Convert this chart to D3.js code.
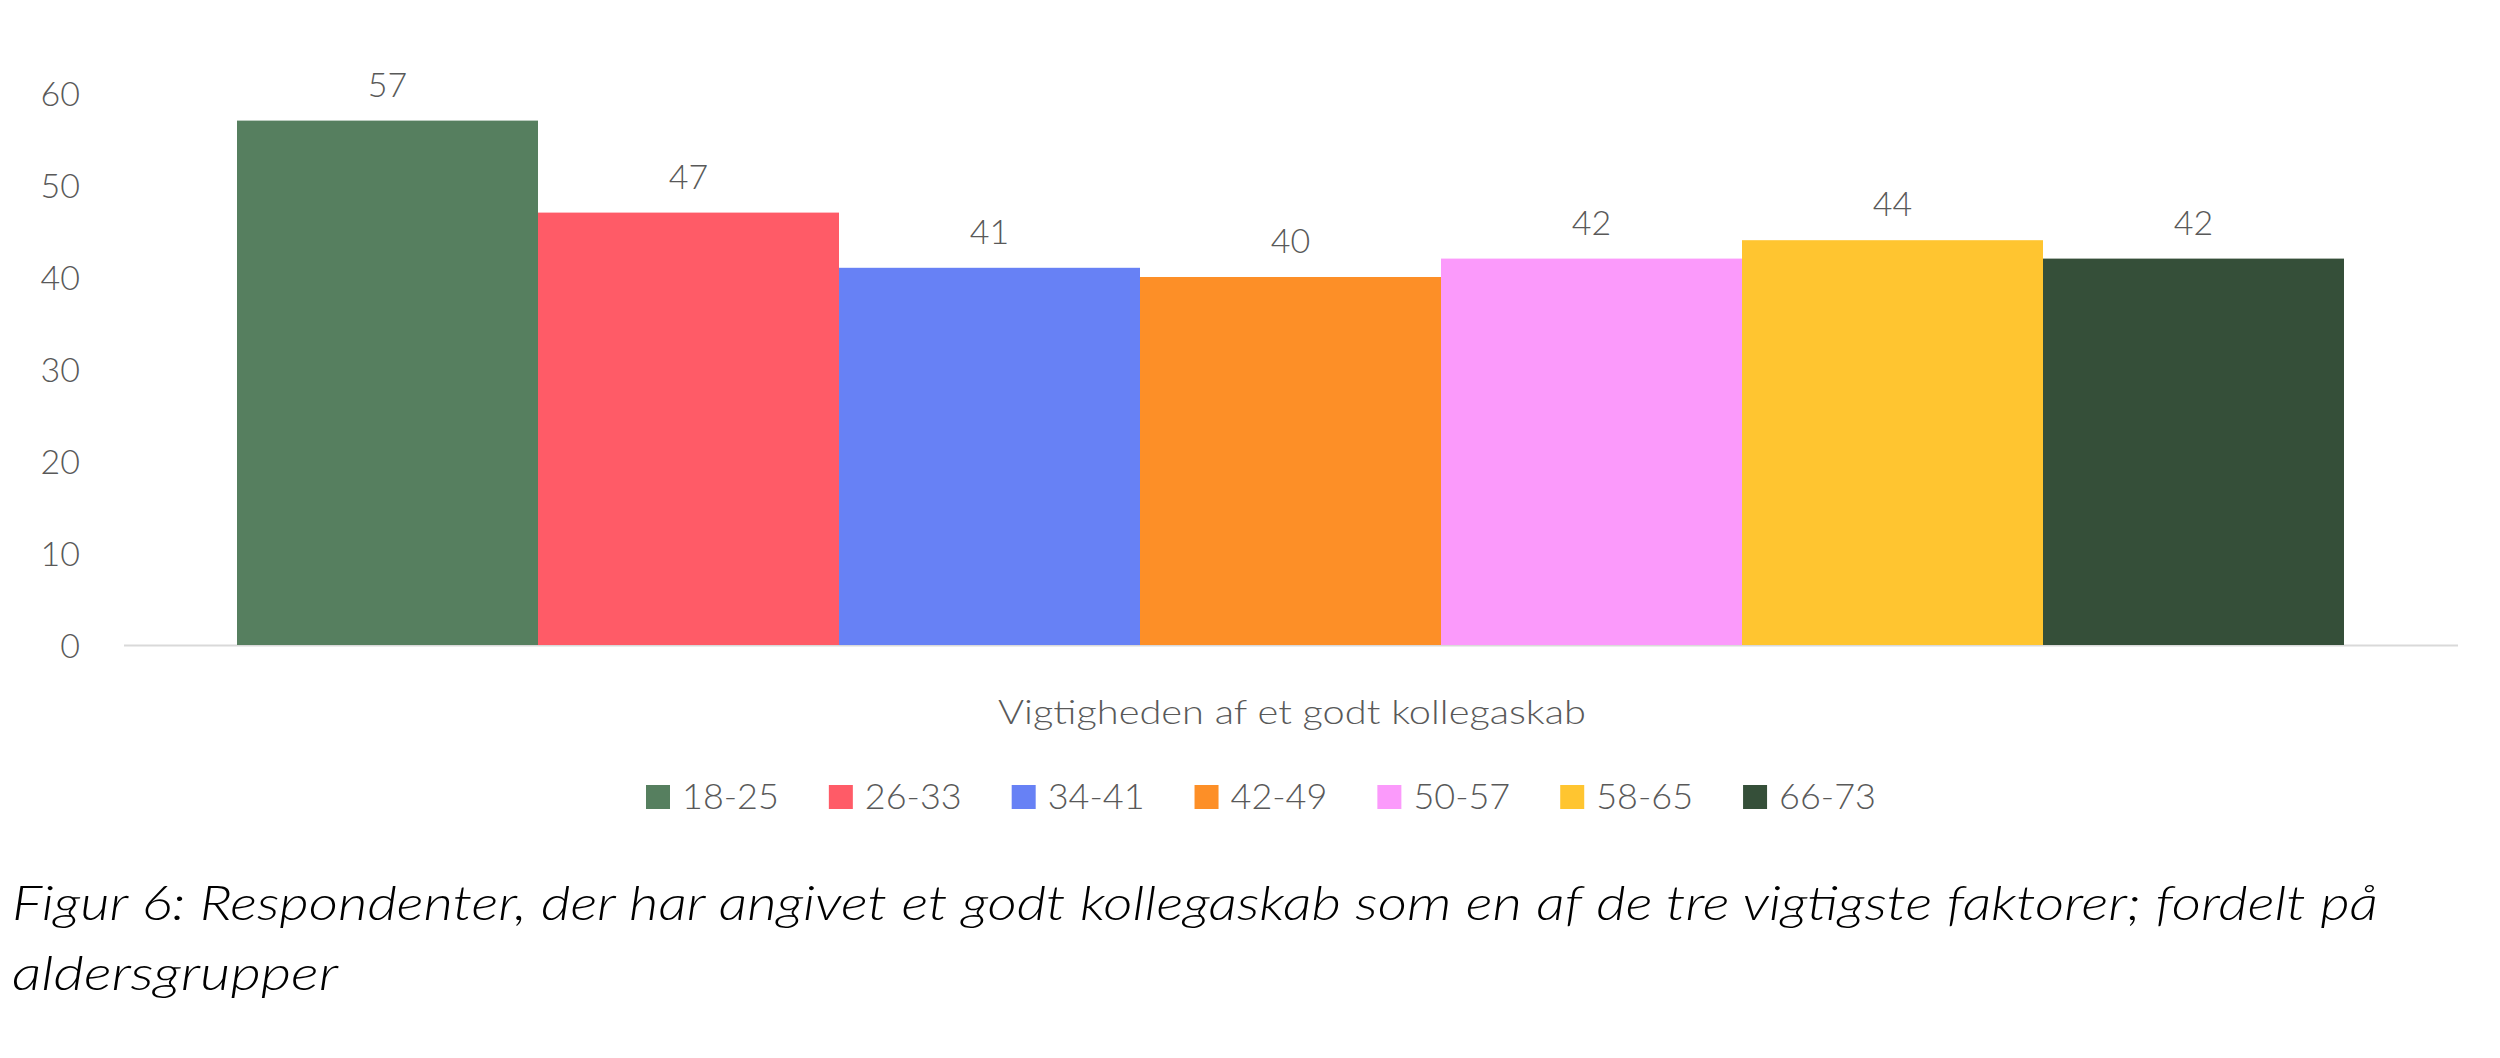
<!DOCTYPE html>
<html><head><meta charset="utf-8">
<script src="https://cdn.jsdelivr.net/npm/d3@7"></script>
<style>
html,body{margin:0;padding:0;background:#fff;}
svg{display:block;}
text{font-family:Lato,"Open Sans",sans-serif;}
</style></head>
<body>
<svg id="chart" width="2500" height="1058"></svg>
<script>
const categories = ["18-25","26-33","34-41","42-49","50-57","58-65","66-73"];
const values = [57,47,41,40,42,44,42];
const colors = ["#567F5F","#FF5B67","#6781F5","#FD8F27","#FB9AFB","#FFC530","#354F39"];
const yTicks = [0,10,20,30,40,50,60];
const axisTitle = "Vigtigheden af et godt kollegaskab";
const captionLines = ["Figur 6: Respondenter, der har angivet et godt kollegaskab som en af de tre vigtigste faktorer; fordelt på","aldersgrupper"];

const svg = d3.select("#chart");
const gray = "#595959";

const x = d3.scaleBand().domain(categories).range([237, 2344]).paddingInner(0).paddingOuter(0);
const y = d3.scaleLinear().domain([0, 60]).range([645, 93]);

// axis baseline
svg.append("line").attr("x1",124).attr("x2",2458).attr("y1",y(0)+0.5).attr("y2",y(0)+0.5)
  .attr("stroke","#D9D9D9").attr("stroke-width",2);

// y axis labels via d3 axis
const yAxis = d3.axisLeft(y).tickValues(yTicks).tickSize(0).tickPadding(0);
const yg = svg.append("g").attr("transform","translate(80,0)").call(yAxis);
yg.select(".domain").remove();
yg.selectAll("text").attr("fill",gray).style("font-size","34px").style("font-weight",300)
  .style("font-family","Lato,sans-serif").attr("dy","0.36em");

// bars
svg.append("g").selectAll("rect").data(categories).join("rect")
  .attr("x", d=>x(d)).attr("width", x.bandwidth())
  .attr("y", (d,i)=>y(values[i])).attr("height",(d,i)=>y(0)-y(values[i]))
  .attr("fill",(d,i)=>colors[i]);

// value labels
svg.append("g").selectAll("text").data(categories).join("text")
  .attr("x", d=>x(d)+x.bandwidth()/2).attr("y",(d,i)=>y(values[i])-24)
  .attr("text-anchor","middle").attr("fill",gray)
  .style("font-size","34px").style("font-weight",300)
  .text((d,i)=>values[i]);

// axis title
svg.append("text").attr("x",1292).attr("y",724).attr("text-anchor","middle")
  .attr("fill",gray).style("font-size","34px").style("font-weight",300)
  .attr("textLength",588).attr("lengthAdjust","spacingAndGlyphs")
  .text(axisTitle);

// legend
const lg = svg.append("g");
let lx = 646;
const ly = 797;
categories.forEach((c,i)=>{
  lg.append("rect").attr("x",lx).attr("y",ly-12).attr("width",24).attr("height",24).attr("fill",colors[i]);
  const t = lg.append("text").attr("x",lx+36).attr("y",ly+12).attr("fill",gray)
    .style("font-size","36px").style("font-weight",300).text(c);
  const w = t.node().getComputedTextLength();
  lx += 36 + w + 50;
});

// caption
const cap = svg.append("g");
cap.append("text").attr("x",12).attr("y",920).attr("fill","#000")
  .style("font-size","47px").style("font-style","italic").style("font-weight",300)
  .attr("textLength",2366).attr("lengthAdjust","spacingAndGlyphs")
  .text(captionLines[0]);
cap.append("text").attr("x",12).attr("y",990).attr("fill","#000")
  .style("font-size","47px").style("font-style","italic").style("font-weight",300)
  .attr("textLength",326).attr("lengthAdjust","spacingAndGlyphs")
  .text(captionLines[1]);
</script>
</body></html>
